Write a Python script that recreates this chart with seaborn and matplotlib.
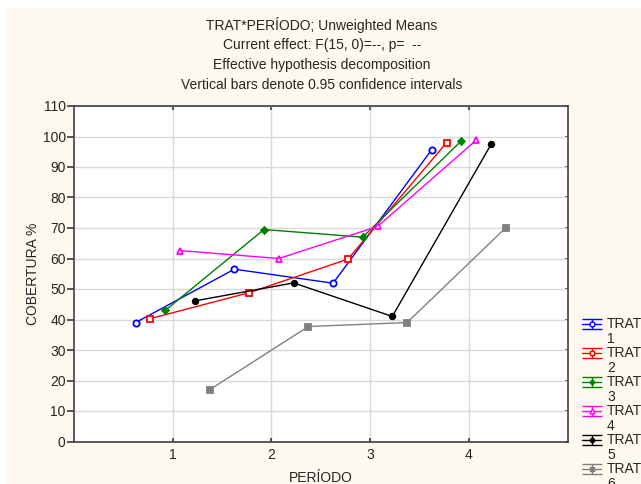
import matplotlib
matplotlib.use("Agg")
import matplotlib.pyplot as plt
import numpy as np
import pandas as pd
import seaborn as sns
from matplotlib.container import ErrorbarContainer
from matplotlib.collections import LineCollection
from matplotlib.legend_handler import HandlerErrorbar
from matplotlib.lines import Line2D
from matplotlib.patches import Rectangle

# data
periodo = [1, 2, 3, 4]
trat1 = [39.0, 56.5, 51.9, 95.7]
trat2 = [40.3, 48.8, 59.8, 98.0]
trat3 = [43.0, 69.5, 67.0, 98.6]
trat4 = [62.6, 60.0, 70.5, 98.8]
trat5 = [46.1, 52.0, 41.0, 97.4]
trat6 = [17.0, 37.7, 39.0, 70.1]
trat_names = ["1", "2", "3", "4", "5", "6"]

series = [trat1, trat2, trat3, trat4, trat5, trat6]
rows = []
for name, vals in zip(trat_names, series):
    for p, v in zip(periodo, vals):
        rows.append({"TRAT": name, "PERIODO": p, "COBERTURA": v})
df = pd.DataFrame(rows)

# dodge the treatments a little along x, like statistica does
dodge = 0.15
idx = df["TRAT"].map({t: i for i, t in enumerate(trat_names)})
df["x"] = df["PERIODO"] + (idx - (len(trat_names) - 1) / 2) * dodge

colors = ["#0000FF", "#FF0000", "#008000", "#FF00FF", "#000000", "#808080"]
markers = ["o", "s", "D", "^", "o", "s"]
faces = ["white", "white", "#008000", "white", "#000000", "#808080"]
msizes = [4.5, 4.5, 3.5, 4.5, 4, 4.5]

sns.set_theme(style="white")
plt.rcParams["font.family"] = ["Liberation Sans", "DejaVu Sans"]

fig = plt.figure(figsize=(6.41, 4.84), dpi=100)
fig.patch.set_facecolor("white")
fig.patches.append(Rectangle((7 / 641, 0), 1, 1 - 8 / 484, transform=fig.transFigure,
                             facecolor="#FDF9EE", edgecolor="none", zorder=-10))

ax = fig.add_axes([74 / 641, 1 - 441.5 / 484, (567.5 - 74) / 641, (441.5 - 106) / 484])
ax.set_facecolor("white")

for name, c, m, fc, ms in zip(trat_names, colors, markers, faces, msizes):
    sub = df[df["TRAT"] == name]
    sns.lineplot(data=sub, x="x", y="COBERTURA", color=c, marker=m,
                 markerfacecolor=fc, markeredgecolor=c, markeredgewidth=1.3,
                 markersize=ms, linewidth=1, sort=False, legend=False, ax=ax)

ax.set_xlim(0, 5)
ax.set_ylim(0, 110)
ax.set_xticks(periodo)
ax.set_yticks(range(0, 111, 10))
ax.grid(True, color="#D9D9D9", linewidth=1)
ax.set_axisbelow(True)
for s in ax.spines.values():
    s.set_color("#404040")
    s.set_linewidth(1.2)
ax.tick_params(axis="x", direction="in", top=True, bottom=True, length=3,
               color="#404040", labelsize=10, pad=5)
ax.tick_params(axis="y", direction="out", left=True, length=5, color="#404040",
               labelsize=10, pad=1)
sec = ax.secondary_yaxis("right")
sec.set_yticks(range(0, 111, 10))
sec.tick_params(direction="in", length=2, labelright=False, color="#404040")
sec.spines["right"].set_visible(False)

ax.set_xlabel("PERÍODO", fontsize=10, labelpad=6)
ax.set_ylabel("COBERTURA %", fontsize=10, labelpad=2)

titles = ["TRAT*PERÍODO; Unweighted Means",
          "Current effect: F(15, 0)=--, p=  --",
          "Effective hypothesis decomposition",
          "Vertical bars denote 0.95 confidence intervals"]
for i, t in enumerate(titles):
    fig.text(322 / 641, 1 - (25 + 20 * i) / 484, t, ha="center", va="center", fontsize=10)


class UpperErrorbar(HandlerErrorbar):
    # put the symbol next to the first line of a two-line label
    def create_artists(self, legend, orig_handle, xdescent, ydescent, width, height,
                       fontsize, trans):
        return super().create_artists(legend, orig_handle, xdescent,
                                      ydescent - 1.2 * fontsize, width, height,
                                      fontsize, trans)


handles = []
for c, m, fc, ms in zip(colors, markers, faces, msizes):
    line = Line2D([], [], color=c, marker=m, markerfacecolor=fc, markeredgecolor=c,
                  markersize=ms - 1, linewidth=1)
    cap = Line2D([], [], color=c, marker="_", markersize=14, linewidth=0)
    bars = LineCollection([], colors=c, linewidths=1)
    handles.append(ErrorbarContainer((line, (cap,), (bars,)), has_xerr=False, has_yerr=True))

leg = fig.legend(handles, ["TRAT\n" + t for t in trat_names], loc="upper left",
                 bbox_to_anchor=(582 / 641, 1 - 317.5 / 484), frameon=False, fontsize=10,
                 handlelength=1.4, handletextpad=0.4, labelspacing=0.0,
                 borderpad=0, borderaxespad=0,
                 handler_map={ErrorbarContainer: UpperErrorbar(yerr_size=0.36)})
for t in leg.get_texts():
    t.set_linespacing(1.08)

fig.savefig("out.png", dpi=100)
